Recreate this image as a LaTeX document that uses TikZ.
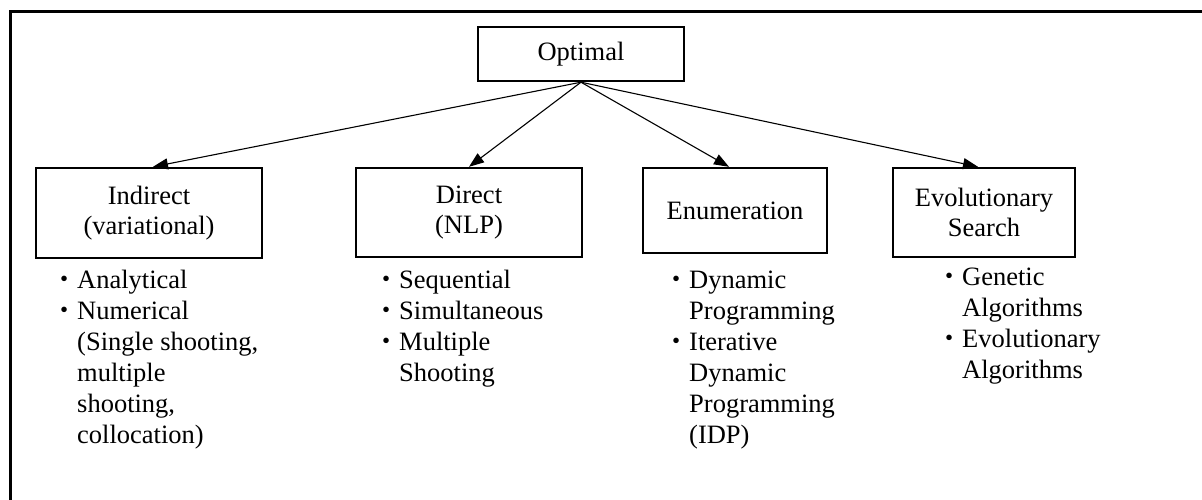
\documentclass[tikz,border=0pt]{standalone}
\usepackage{fontspec}
\setmainfont{Liberation Serif}
\usetikzlibrary{arrows.meta}
% raised bullet followed by a fixed gap before the item text
\newcommand\bl{\makebox[17pt][l]{\raisebox{1.5pt}{\fontsize{23}{23}\selectfont\textbullet}}}
\begin{document}
\begin{tikzpicture}[x=1pt,y=-1pt,
  catbox/.style={draw, line width=2.4pt, inner sep=0pt, align=center,
    font=\fontsize{26.5}{30}\selectfont},
  branch/.style={line width=1.1pt, -{Triangle[length=15pt,width=11pt]}},
  itemlist/.style={inner sep=0pt, anchor=base west,
    font=\fontsize{26.5}{31}\selectfont}]
\useasboundingbox (0,0) rectangle (1202,499);
\clip (0,0) rectangle (1202,499);

% surrounding frame
\draw[line width=3pt] (10,11) rectangle (1220,520);

% root and the four method families
\node[catbox, minimum width=206pt, minimum height=54pt] (opt) at (581,54) {Optimal};
\node[catbox, minimum width=226pt, minimum height=90pt] (ind) at (149,213) {Indirect\\(variational)};
\node[catbox, minimum width=226pt, minimum height=89pt] (dir) at (469,212.5) {Direct\\(NLP)};
\node[catbox, minimum width=184pt, minimum height=85pt] (enu) at (735,210.5) {Enumeration};
\node[catbox, minimum width=182pt, minimum height=89pt] (evo) at (984,212.5) {Evolutionary\\Search};

% branches
\draw[branch] (opt.south) -- ([xshift=4pt]ind.north);
\draw[branch] (opt.south) -- (dir.north);
\draw[branch] (opt.south) -- ([xshift=-6pt]enu.north);
\draw[branch] (opt.south) -- ([xshift=-6pt]evo.north);

% bullet lists under each family
\node[itemlist] (indlist) at (60,288) {\begin{tabular}[t]{@{}l@{}l@{}}
  \bl & Analytical\\
  \bl & Numerical\\
      & (Single shooting,\\
      & multiple\\
      & shooting,\\
      & collocation)
\end{tabular}};
\node[itemlist] (dirlist) at (382,288) {\begin{tabular}[t]{@{}l@{}l@{}}
  \bl & Sequential\\
  \bl & Simultaneous\\
  \bl & Multiple\\
      & Shooting
\end{tabular}};
\node[itemlist] (enulist) at (672,288) {\begin{tabular}[t]{@{}l@{}l@{}}
  \bl & Dynamic\\
      & Programming\\
  \bl & Iterative\\
      & Dynamic\\
      & Programming\\
      & (IDP)
\end{tabular}};
\node[itemlist] (evolist) at (945,285) {\begin{tabular}[t]{@{}l@{}l@{}}
  \bl & Genetic\\
      & Algorithms\\
  \bl & Evolutionary\\
      & Algorithms
\end{tabular}};
\end{tikzpicture}
\end{document}
